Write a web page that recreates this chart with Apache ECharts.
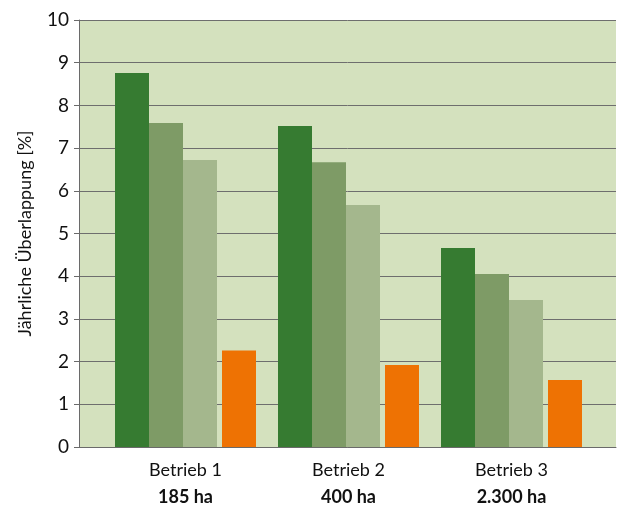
<!DOCTYPE html>
<html>
<head>
<meta charset="utf-8">
<script src="https://cdn.jsdelivr.net/npm/echarts@6/dist/echarts.min.js"></script>
<style>
html,body{margin:0;padding:0;background:#fff;}
#chart{width:638px;height:507px;}
</style>
</head>
<body>
<div id="chart"></div>
<script>
const categories = ['Betrieb 1', 'Betrieb 2', 'Betrieb 3'];
const areas = ['185 ha', '400 ha', '2.300 ha'];
const seriesA = [8.76, 7.52, 4.66];
const seriesB = [7.59, 6.67, 4.05];
const seriesC = [6.72, 5.67, 3.44];
const seriesD = [2.26, 1.92, 1.57];
const yTicks = [0, 1, 2, 3, 4, 5, 6, 7, 8, 9, 10];

const FONT = 'Lato, "Liberation Sans", sans-serif';
const chart = echarts.init(document.getElementById('chart'), null, {renderer: 'canvas'});

const labels = categories.map((c, i) => c + '\n' + areas[i]);

const option = {
  animation: false,
  backgroundColor: '#ffffff',
  grid: [
    {left: 79, right: 22, top: 20, bottom: 60, show: true, backgroundColor: '#D4E1BE', borderWidth: 0},
    {left: 104, right: 45, top: 20, bottom: 60}
  ],
  xAxis: [
    {gridIndex: 0, type: 'value', min: 0, max: 1, splitLine: {show: false}, axisLabel: {show: false}, axisTick: {show: false},
     axisLine: {show: true, lineStyle: {color: '#6a6a6a', width: 1}}},
    {gridIndex: 1, type: 'category', data: labels, axisLine: {show: false}, axisTick: {show: false},
     axisLabel: {
       margin: 10,
       formatter: function (v) { const p = v.split('\n'); return '{a|' + p[0] + '}\n{b|' + p[1] + '}'; },
       rich: {
         a: {fontFamily: FONT, fontSize: 18, color: '#111', lineHeight: 27},
         b: {fontFamily: FONT, fontSize: 18, fontWeight: 'bold', color: '#111', lineHeight: 27}
       }
     }}
  ],
  yAxis: [
    {gridIndex: 0, type: 'value', min: yTicks[0], max: yTicks[yTicks.length - 1], interval: 1,
     name: 'Jährliche Überlappung [%]', nameLocation: 'middle', nameRotate: 90, nameGap: 45,
     nameTextStyle: {fontFamily: FONT, fontSize: 18, color: '#111'},
     axisLine: {show: true, lineStyle: {color: '#6a6a6a', width: 1}},
     axisTick: {show: true, length: 5, lineStyle: {color: '#6a6a6a'}},
     axisLabel: {fontFamily: FONT, fontSize: 19, color: '#111', margin: 10},
     splitLine: {show: true, lineStyle: {color: '#6e6e6e', width: 1}}},
    {gridIndex: 1, type: 'value', min: 0, max: 10, interval: 1, show: false, splitLine: {show: false}}
  ],
  series: [
    {type: 'bar', xAxisIndex: 1, yAxisIndex: 1, data: seriesA, barWidth: 34, barGap: 0, itemStyle: {color: '#367B31'}},
    {type: 'bar', xAxisIndex: 1, yAxisIndex: 1, data: seriesB, barWidth: 34, barGap: 0, itemStyle: {color: '#7E9B66'}},
    {type: 'bar', xAxisIndex: 1, yAxisIndex: 1, data: seriesC, barWidth: 34, barGap: 0, itemStyle: {color: '#A4B78D'}},
    {type: 'bar', xAxisIndex: 1, yAxisIndex: 1, data: [null, null, null], barWidth: 5, barGap: 0, silent: true},
    {type: 'bar', xAxisIndex: 1, yAxisIndex: 1, data: seriesD, barWidth: 34, barGap: 0, itemStyle: {color: '#EE7203'}}
  ]
};
chart.setOption(option);
</script>
</body>
</html>
